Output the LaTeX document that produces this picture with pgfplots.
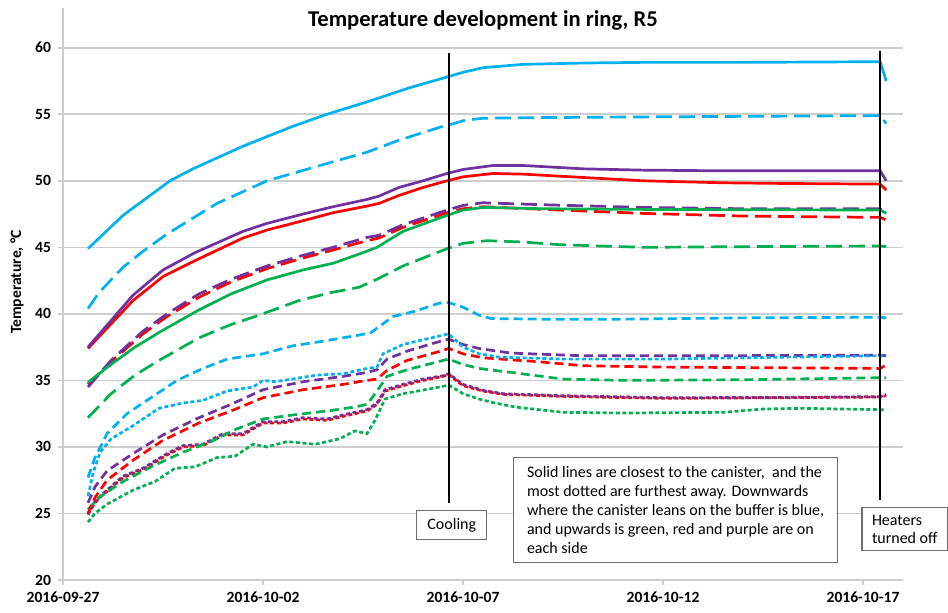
\documentclass[border=0pt]{standalone}
\usepackage{fontspec}
\setmainfont{Carlito}
\usepackage{pgfplots}
\pgfplotsset{compat=1.18}
\definecolor{xblue}{HTML}{00B0F0}
\definecolor{xpurple}{HTML}{7030A0}
\definecolor{xred}{HTML}{FF0000}
\definecolor{xgreen}{HTML}{00B050}
\definecolor{gridgray}{RGB}{205,205,205}
\definecolor{boxgray}{RGB}{110,110,110}
\tikzset{
  s1/.style={line width=1.35pt},
  s2/.style={line width=1.35pt, dash pattern=on 8pt off 3.5pt},
  s3/.style={line width=1.35pt, dash pattern=on 4.5pt off 2.5pt},
  s4/.style={line width=1.35pt, dash pattern=on 2pt off 1.3pt},
}
\begin{document}
\begin{tikzpicture}
\begin{axis}[
  scale only axis, width=420pt, height=286.1pt,
  xmin=0, xmax=21, ymin=20, ymax=63,
  axis x line*=bottom, axis y line*=left,
  axis line style={draw=gridgray, line width=0.8pt},
  xtick={0,5,10,15,20},
  xticklabels={2016-09-27,2016-10-02,2016-10-07,2016-10-12,2016-10-17},
  ytick={20,25,30,35,40,45,50,55,60},
  ymajorgrids, grid style={draw=gridgray, line width=0.8pt},
  tick align=outside, major tick length=2.5pt,
  tick style={draw=gridgray, line width=0.8pt},
  tick label style={font=\fontsize{7.8}{9}\selectfont\bfseries},
  /pgf/number format/assume math mode=true,
  clip=false,
  no markers,
]
% green dotted
\addplot[xgreen, s4] coordinates {(0.625,24.35) (0.8,25.0) (1.1,25.7) (1.75,26.75) (2.3,27.4) (2.8,28.4) (3.3,28.5) (3.85,29.2) (4.3,29.3) (4.75,30.2) (5.1,30.0) (5.6,30.4) (6.3,30.2) (6.9,30.6) (7.3,31.2) (7.6,31.0) (7.8,32.0) (8.05,33.6) (8.5,34.0) (9.5,34.55) (9.64,34.65) (10.0,34.0) (10.4,33.6) (10.8,33.3) (11.3,33.0) (12.5,32.6) (14,32.55) (16.5,32.6) (17.5,32.85) (18.5,32.9) (20.43,32.8) (20.58,32.8)};
% red dotted
\addplot[xred, s4] coordinates {(0.625,25.0) (0.8,25.8) (1.0,26.4) (1.5,27.7) (2.0,28.3) (2.6,29.4) (3.0,30.0) (3.5,30.1) (4.0,30.9) (4.5,30.9) (5.0,31.8) (5.5,31.8) (6.0,32.1) (6.6,32.0) (7.0,32.3) (7.6,32.7) (7.85,33.2) (8.05,34.2) (8.5,34.6) (9.0,35.0) (9.5,35.3) (9.64,35.45) (10.0,34.6) (10.5,34.2) (11,33.95) (12.5,33.8) (15,33.65) (18,33.7) (20.43,33.75) (20.58,33.95)};
% purple dotted
\addplot[xpurple, s4] coordinates {(0.625,24.9) (0.8,25.9) (1.0,26.5) (1.5,27.8) (2.0,28.4) (2.6,29.5) (3.0,30.1) (3.5,30.2) (4.0,31.0) (4.5,31.0) (5.0,31.9) (5.5,31.9) (6.0,32.2) (6.6,32.1) (7.0,32.4) (7.6,32.8) (7.85,33.3) (8.05,34.3) (8.5,34.7) (9.0,35.1) (9.5,35.35) (9.64,35.5) (10.0,34.7) (10.5,34.25) (11,34.0) (12.5,33.85) (15,33.7) (18,33.72) (20.43,33.78) (20.58,33.85)};
% green dash
\addplot[xgreen, s3] coordinates {(0.625,25.3) (0.9,26.2) (1.5,27.4) (2.2,28.5) (3.0,29.6) (3.7,30.4) (4.3,31.3) (5.0,32.1) (5.75,32.4) (6.6,32.7) (7.3,33.0) (7.6,33.2) (7.85,34.2) (8.1,35.3) (8.6,35.8) (9.5,36.5) (9.64,36.6) (10.0,36.2) (10.4,35.9) (11.2,35.6) (12.5,35.1) (14,35.0) (17,35.05) (20.43,35.2) (20.58,35.2)};
% red dash
\addplot[xred, s3] coordinates {(0.625,25.0) (0.8,26.2) (1.1,27.5) (1.75,29.0) (2.5,30.5) (3.4,31.8) (4.2,32.7) (5.0,33.7) (6.0,34.3) (7.0,34.7) (7.6,35.0) (7.85,35.1) (8.1,35.75) (8.6,36.5) (9.5,37.25) (9.64,37.4) (10.0,37.0) (10.5,36.7) (11.9,36.4) (13,36.1) (15,36.0) (20.43,35.9) (20.58,36.15)};
% purple dash
\addplot[xpurple, s3] coordinates {(0.625,25.8) (0.8,27.0) (1.1,28.2) (1.75,29.5) (2.5,30.9) (3.4,32.2) (4.2,33.2) (5.0,34.3) (6.0,34.9) (7.0,35.3) (7.6,35.6) (7.85,35.8) (8.1,36.6) (8.6,37.2) (9.5,38.0) (9.64,38.1) (10.0,37.7) (10.4,37.4) (11.2,37.05) (13,36.85) (16,36.85) (20.43,36.9) (20.58,36.85)};
% blue dotted
\addplot[xblue, s4] coordinates {(0.625,26.3) (0.75,28.0) (0.925,29.6) (1.2,30.6) (1.75,31.6) (2.4,32.9) (3.0,33.3) (3.5,33.5) (4.1,34.2) (4.75,34.5) (5.0,35.0) (5.3,34.9) (6.35,35.4) (7.0,35.5) (7.6,35.9) (7.85,36.0) (8.0,37.0) (8.5,37.7) (9.5,38.4) (9.64,38.5) (10.0,37.5) (10.4,37.0) (10.9,36.75) (12.5,36.6) (15,36.6) (17,36.7) (20.43,36.85) (20.58,36.85)};
% blue dash
\addplot[xblue, s3] coordinates {(0.625,27.7) (0.8,29.2) (1.1,31.0) (1.6,32.5) (2.2,33.7) (2.85,35.0) (3.5,35.9) (4.1,36.6) (5.0,37.0) (5.75,37.6) (6.4,37.9) (7.4,38.4) (7.7,38.6) (8.25,39.8) (8.8,40.2) (9.4,40.8) (9.64,40.85) (10.0,40.5) (10.4,39.9) (10.7,39.65) (12,39.6) (14,39.6) (17,39.7) (20.43,39.75) (20.58,39.7)};
% green long dash
\addplot[xgreen, s2] coordinates {(0.625,32.2) (1.2,34.0) (1.8,35.4) (2.4,36.5) (3.4,38.2) (4.2,39.2) (4.9,39.9) (5.9,41.0) (6.7,41.6) (7.4,42.0) (7.85,42.6) (8.5,43.6) (9.6,44.9) (10.0,45.3) (10.6,45.5) (11.5,45.4) (12.4,45.2) (14.5,45.0) (17,45.05) (20.43,45.1) (20.58,45.05)};
% red long dash
\addplot[xred, s2] coordinates {(0.625,34.7) (1.2,36.4) (2.0,38.5) (2.6,39.8) (3.4,41.25) (4.2,42.4) (5.1,43.4) (6.0,44.2) (6.75,44.8) (7.6,45.5) (7.9,45.7) (8.5,46.5) (9.6,47.6) (10.0,47.9) (10.5,48.05) (12,47.85) (14.5,47.55) (17,47.35) (20.43,47.25) (20.58,47.05)};
% purple long dash
\addplot[xpurple, s2] coordinates {(0.625,34.5) (1.2,36.5) (2.0,38.7) (2.6,40.0) (3.4,41.5) (4.2,42.6) (5.1,43.6) (6.0,44.4) (6.75,45.0) (7.6,45.75) (7.9,45.9) (8.5,46.7) (9.6,47.8) (10.0,48.15) (10.5,48.35) (12,48.2) (14.5,48.0) (17,47.9) (20.43,47.9) (20.58,47.55)};
% green solid
\addplot[xgreen, s1] coordinates {(0.625,34.85) (1.2,36.2) (1.8,37.5) (2.4,38.6) (3.4,40.3) (4.2,41.5) (5.1,42.55) (6.0,43.3) (6.75,43.8) (7.5,44.6) (7.85,45.0) (8.5,46.2) (9.6,47.4) (10.0,47.8) (10.5,48.0) (12,47.9) (14.5,47.85) (20.43,47.8) (20.58,47.55)};
% red solid
\addplot[xred, s1] coordinates {(0.625,37.4) (1.0,38.6) (1.75,41.0) (2.5,42.8) (3.3,44.0) (4.5,45.7) (5.1,46.3) (6.0,47.0) (6.75,47.6) (7.6,48.1) (7.9,48.3) (8.4,48.9) (9.0,49.5) (9.6,50.0) (10.0,50.3) (10.75,50.55) (11.5,50.5) (13,50.25) (14.5,50.0) (16.5,49.85) (18,49.8) (20.43,49.75) (20.58,49.3)};
% purple solid
\addplot[xpurple, s1] coordinates {(0.625,37.5) (1.0,38.8) (1.75,41.4) (2.5,43.3) (3.3,44.6) (4.5,46.2) (5.1,46.8) (6.0,47.5) (6.75,48.05) (7.6,48.6) (7.9,48.85) (8.4,49.5) (9.0,50.0) (9.6,50.55) (10.0,50.85) (10.75,51.15) (11.5,51.15) (13,50.9) (14.5,50.8) (16.5,50.75) (20.43,50.75) (20.58,50.0)};
% blue long dash
\addplot[xblue, s2] coordinates {(0.625,40.4) (0.9,41.6) (1.5,43.5) (2.0,44.7) (2.6,46.0) (3.25,47.2) (3.85,48.3) (5.1,50.0) (6.6,51.3) (7.6,52.15) (8.4,53.05) (9.5,54.1) (9.65,54.2) (10.05,54.55) (10.5,54.7) (12,54.75) (14.5,54.8) (20.43,54.9) (20.58,54.3)};
% blue solid
\addplot[xblue, s1] coordinates {(0.625,44.9) (1.5,47.4) (2.675,50.0) (3.25,50.9) (4.5,52.6) (5.75,54.1) (6.6,55.0) (7.675,56.0) (8.675,57.0) (9.6,57.8) (10.0,58.15) (10.5,58.5) (11.5,58.75) (13,58.85) (14.5,58.9) (17,58.9) (20.43,58.95) (20.58,57.5)};

% annotation lines
\draw[black, line width=1pt] (axis cs:9.64,59.6) -- (axis cs:9.64,25.8);
\draw[black, line width=1pt] (axis cs:20.43,59.75) -- (axis cs:20.43,26.0);
% boxes
\node[draw=boxgray, line width=0.6pt, fill=white, minimum width=35pt, minimum height=14.3pt, inner sep=0pt, font=\fontsize{8}{9.5}\selectfont] at (axis cs:9.72,24.14) {Cooling};
\node[draw=boxgray, line width=0.6pt, fill=white, align=left, anchor=north west, inner xsep=5pt, inner ysep=4.5pt, minimum width=162pt, font=\fontsize{8}{9.5}\selectfont] at (axis cs:11.25,29.25) {Solid lines are closest to the canister,\ \ and the\\ most dotted are furthest away. Downwards\\ where the canister leans on the buffer is blue,\\ and upwards is green, red and purple are on\\ each side};
\node[draw=boxgray, line width=0.6pt, fill=white, align=left, anchor=north west, inner xsep=5pt, inner ysep=3.5pt, minimum width=42.6pt, font=\fontsize{8}{9.2}\selectfont] at (axis cs:19.96,25.47) {Heaters\\ turned off};
% title and y label
\node[font=\fontsize{11.3}{13}\selectfont\bfseries, anchor=base] at (axis cs:10.5,61.58) {Temperature development in ring, R5};
\node[rotate=90, font=\fontsize{7.8}{9}\selectfont\bfseries] at (axis cs:-1.15,42.4) {Temperature, °C};
\end{axis}
\pgfresetboundingbox
\path[use as bounding box] (-31.5pt,-16pt) rectangle (442.5pt,290pt);
\end{tikzpicture}
\end{document}
